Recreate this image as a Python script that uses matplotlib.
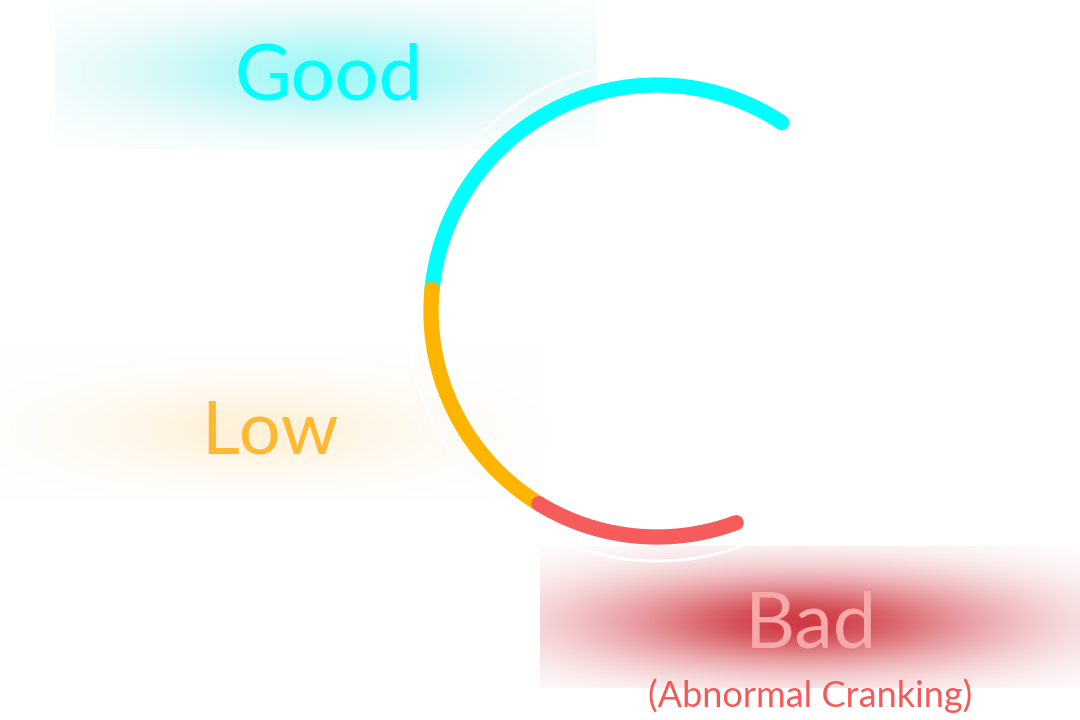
"""
Ring gauge with three zones (Good / Low / Bad) and soft glowing labels.
"""

import numpy as np
import matplotlib.pyplot as plt
from matplotlib.colors import to_rgb

# zones, in the order they run round the ring (counter-clockwise)
zones = ['Good', 'Low', 'Bad']
spans = [118, 64, 52]            # degrees of the ring taken by each zone
start_angle = 56.5               # where the Good zone begins
ring_colors = ['#00FFFF', '#FFB400', '#F75C5C']
label_colors = ['#00FFFF', '#FFB833', '#F7A8A8']

subtitle = '(Abnormal Cranking)'

W, H = 1080, 720
cx, cy, R = 657, 311, 226

fig = plt.figure(figsize=(10.8, 7.2), dpi=100)
ax = fig.add_axes([0, 0, 1, 1])
ax.set_xlim(0, W)
ax.set_ylim(H, 0)
ax.axis('off')


def glow(box, xc, yc, layers):
    # box: x0, x1, y0, y1 ; layers: (colour, strength, sx, sy, power)
    x0, x1, y0, y1 = box
    X, Y = np.meshgrid(np.arange(x0, x1) + 0.5, np.arange(y0, y1) + 0.5)
    img = np.ones(X.shape + (3,))
    for col, s, sx, sy, p in layers:
        d = np.sqrt(((X - xc) / sx) ** 2 + ((Y - yc) / sy) ** 2)
        w = s * np.exp(-d ** p)
        img = img * (1 - w[..., None]) + np.array(to_rgb(col)) * w[..., None]
    ax.imshow(img, extent=(x0, x1, y1, y0), zorder=1, interpolation='bilinear')


# glows behind the labels
glow((55, 597, 0, 149), 330, 72,
     [('#C8D4D4', 0.16, 280, 72, 3),
      ('#00F0F0', 0.22, 220, 52, 2),
      ('#40FFFF', 0.25, 110, 34, 2)])
glow((0, 545, 350, 500), 255, 430,
     [('#F5DEB8', 0.12, 250, 62, 2.5),
      ('#FFD98A', 0.28, 140, 38, 2)])
glow((540, 1080, 546, 688), 800, 622,
     [('#E07078', 0.55, 270, 62, 2.6),
      ('#C81E28', 0.55, 170, 38, 2),
      ('#C81E28', 0.55, 90, 24, 2)])

# thin white halo arc outside the ring
t = np.radians(np.linspace(60, 292, 300))
ax.plot(cx + 250 * np.cos(t), cy - 250 * np.sin(t), color='white', lw=2.2, zorder=2)

# ring segments
a = start_angle
for span, col in zip(spans, ring_colors):
    t = np.radians(np.linspace(a, a + span, 200))
    ax.plot(cx + R * np.cos(t), cy - R * np.sin(t), color=col, lw=11,
            solid_capstyle='round', zorder=3)
    a += span

font = ['Lato', 'DejaVu Sans']
ax.text(328, 99, zones[0], color=label_colors[0], fontsize=56, family=font,
        ha='center', va='baseline', zorder=4)
ax.text(270, 453, zones[1], color=label_colors[1], fontsize=53, family=font,
        ha='center', va='baseline', zorder=4)
ax.text(811, 647, zones[2], color=label_colors[2], fontsize=56, family=font,
        ha='center', va='baseline', zorder=4)
ax.text(810, 707, subtitle, color='#F55A5A', fontsize=26, family=font,
        ha='center', va='baseline', zorder=4)

fig.savefig('out.png', dpi=100, facecolor='white')
